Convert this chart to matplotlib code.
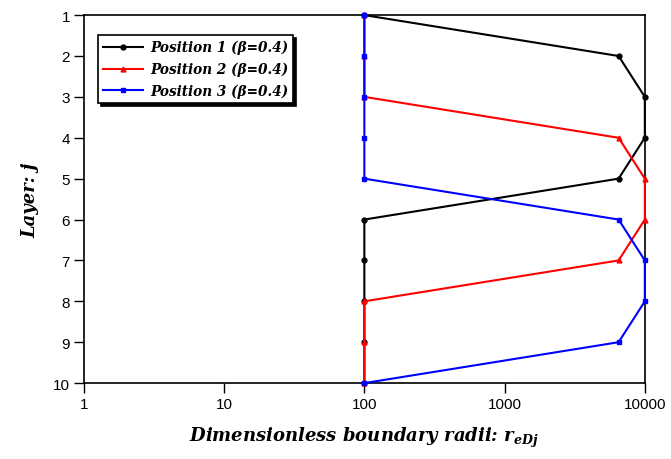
import matplotlib
matplotlib.use("Agg")
import matplotlib.pyplot as plt
from matplotlib.ticker import FixedLocator, NullLocator, FixedFormatter

plt.rcParams["mathtext.fontset"] = "custom"
plt.rcParams["mathtext.it"] = "DejaVu Serif:bold:italic"
plt.rcParams["mathtext.rm"] = "DejaVu Serif:bold:italic"

layers = [1, 2, 3, 4, 5, 6, 7, 8, 9, 10]
pos1 = [100, 6500, 10000, 10000, 6500, 100, 100, 100, 100, 100]
pos2 = [100, 100, 100, 6500, 10000, 10000, 6500, 100, 100, 100]
pos3 = [100, 100, 100, 100, 100, 6500, 10000, 10000, 6500, 100]
labels = ["Position 1 (\u03b2=0.4)", "Position 2 (\u03b2=0.4)", "Position 3 (\u03b2=0.4)"]
colors = ["black", "red", "blue"]
markers = ["o", "^", "s"]
xticks = [1, 10, 100, 1000, 10000]
xticklabels = ["1", "10", "100", "1000", "10000"]

fig = plt.figure(figsize=(6.71, 4.60), dpi=100)
ax = fig.add_axes([0.125, 0.165, 0.836, 0.800])

for xs, lab, c, m in zip([pos1, pos2, pos3], labels, colors, markers):
    ax.plot(xs, layers, color=c, lw=1.5, marker=m, markersize=3.5, label=lab,
            clip_on=False, zorder=3)

ax.set_xscale("log")
ax.set_xlim(1, 10000)
ax.set_ylim(10, 1)
ax.xaxis.set_major_locator(FixedLocator(xticks))
ax.xaxis.set_major_formatter(FixedFormatter(xticklabels))
ax.xaxis.set_minor_locator(NullLocator())
ax.set_yticks(layers)
ax.tick_params(direction="out", length=7, width=1, labelsize=11, pad=3)
for lab in ax.get_xticklabels() + ax.get_yticklabels():
    lab.set_family("Liberation Sans")
for s in ax.spines.values():
    s.set_linewidth(1.2)

ax.set_xlabel("Dimensionless boundary radii: $r_{eDj}$", fontsize=13,
              fontweight="bold", style="italic", family="DejaVu Serif", labelpad=10)
ax.set_ylabel("Layer: j", fontsize=13, fontweight="bold", style="italic",
              family="DejaVu Serif", labelpad=10)

leg = ax.legend(loc="upper left", bbox_to_anchor=(0.025, 0.945), frameon=True,
                fancybox=False, shadow={"color": "black", "alpha": 1},
                edgecolor="black", borderaxespad=0.0, handlelength=3.0,
                handletextpad=0.5,
                prop={"family": "DejaVu Serif", "weight": "bold", "style": "italic", "size": 9.8},
                labelspacing=0.55, borderpad=0.35)
leg.get_frame().set_linewidth(1.2)
leg.set_zorder(5)

fig.savefig("out.png", dpi=100)
